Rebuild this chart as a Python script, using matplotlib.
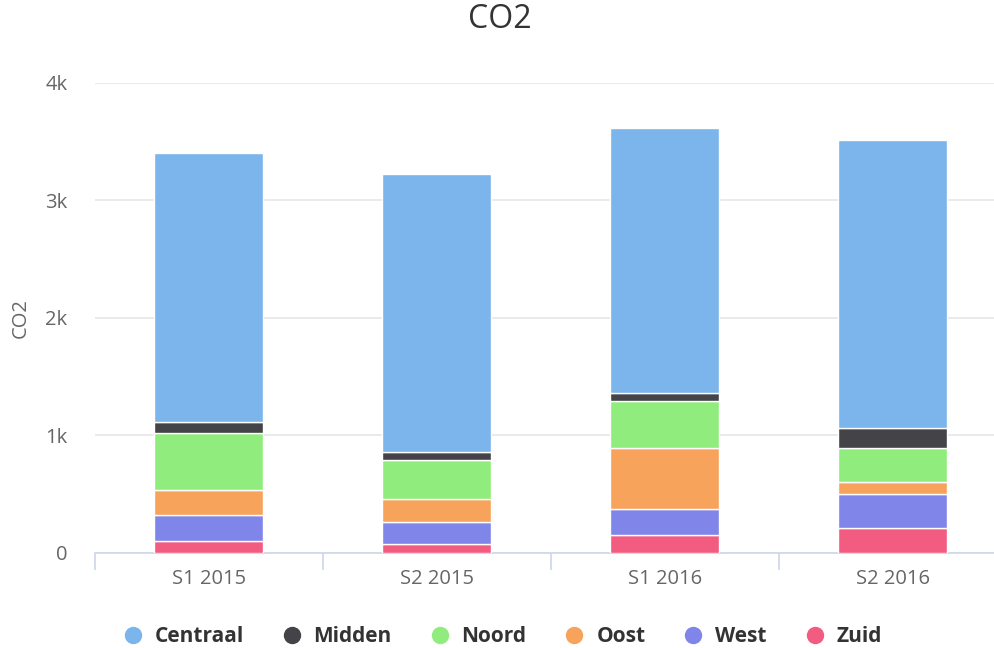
import matplotlib
matplotlib.use("Agg")
import matplotlib.pyplot as plt
from matplotlib.lines import Line2D
import numpy as np

categories = ["S1 2015", "S2 2015", "S1 2016", "S2 2016"]
series_names = ["Centraal", "Midden", "Noord", "Oost", "West", "Zuid"]
centraal = [2295, 2366, 2253, 2449]
midden = [90, 74, 73, 172]
noord = [485, 326, 403, 290]
oost = [211, 196, 519, 104]
west = [223, 193, 222, 293]
zuid = [100, 71, 147, 207]
colors = {"Centraal": "#7cb5ec", "Midden": "#434348", "Noord": "#90ed7d",
          "Oost": "#f7a35c", "West": "#8085e9", "Zuid": "#f15c80"}
yticks = [0, 1000, 2000, 3000, 4000]
ytick_labels = ["0", "1k", "2k", "3k", "4k"]

data = {"Centraal": centraal, "Midden": midden, "Noord": noord,
        "Oost": oost, "West": west, "Zuid": zuid}

plt.rcParams['font.family'] = ['Open Sans', 'DejaVu Sans']

fig = plt.figure(figsize=(9.95, 6.48), dpi=100)
W, H = 995, 648
left, right, top, bottom = 94.7, 1006.7, 83, 552.7
ax = fig.add_axes([left / W, 1 - bottom / H, (right - left) / W, (bottom - top) / H])

x = np.arange(len(categories))
base = np.zeros(len(categories))
for name in ["Zuid", "West", "Oost", "Noord", "Midden", "Centraal"]:
    vals = np.array(data[name], dtype=float)
    ax.bar(x, vals, bottom=base, width=0.48, color=colors[name],
           edgecolor="white", linewidth=1.0, zorder=3)
    base += vals

ax.set_xlim(-0.5, 3.5)
ax.set_ylim(0, 4000)
ax.set_yticks(yticks)
ax.set_yticklabels(ytick_labels)
ax.yaxis.grid(True, color="#e6e6e6", linewidth=1.2, zorder=0)
ax.tick_params(axis="y", length=0, pad=19.5, labelsize=14.5, labelcolor="#666666")
ax.set_xticks(x)
ax.set_xticklabels(categories)
ax.tick_params(axis="x", length=0, pad=12, labelsize=14.5, labelcolor="#666666")
ax.set_xticks(np.arange(-0.5, 4.0, 1.0), minor=True)
ax.tick_params(axis="x", which="minor", length=12.5, width=1.2, color="#ccd6eb")
for s in ["top", "right", "left"]:
    ax.spines[s].set_visible(False)
ax.spines["bottom"].set_color("#ccd6eb")
ax.spines["bottom"].set_linewidth(1.2)
ax.set_axisbelow(True)

fig.text(21 / W, 1 - 318 / H, "CO2", rotation=90, ha="center", va="center",
         fontsize=14.5, color="#666666")

fig.text(500 / W, 1 - 20 / H, "CO2", ha="center", va="center", fontsize=23, color="#333333")

handles = [Line2D([0], [0], marker="o", linestyle="", markersize=11.5,
                  markerfacecolor=colors[n], markeredgecolor=colors[n]) for n in series_names]
leg = fig.legend(handles, series_names, loc="center", bbox_to_anchor=(502 / W, 1 - 637 / H),
                 ncol=6, frameon=False, handlelength=1.0, handletextpad=0.55,
                 columnspacing=1.8, borderpad=0, borderaxespad=0,
                 prop={"family": ["Liberation Sans Narrow", "Open Sans", "DejaVu Sans"],
                       "weight": "bold", "size": 15})
for t in leg.get_texts():
    t.set_color("#333333")

fig.savefig("out.png", dpi=100)
